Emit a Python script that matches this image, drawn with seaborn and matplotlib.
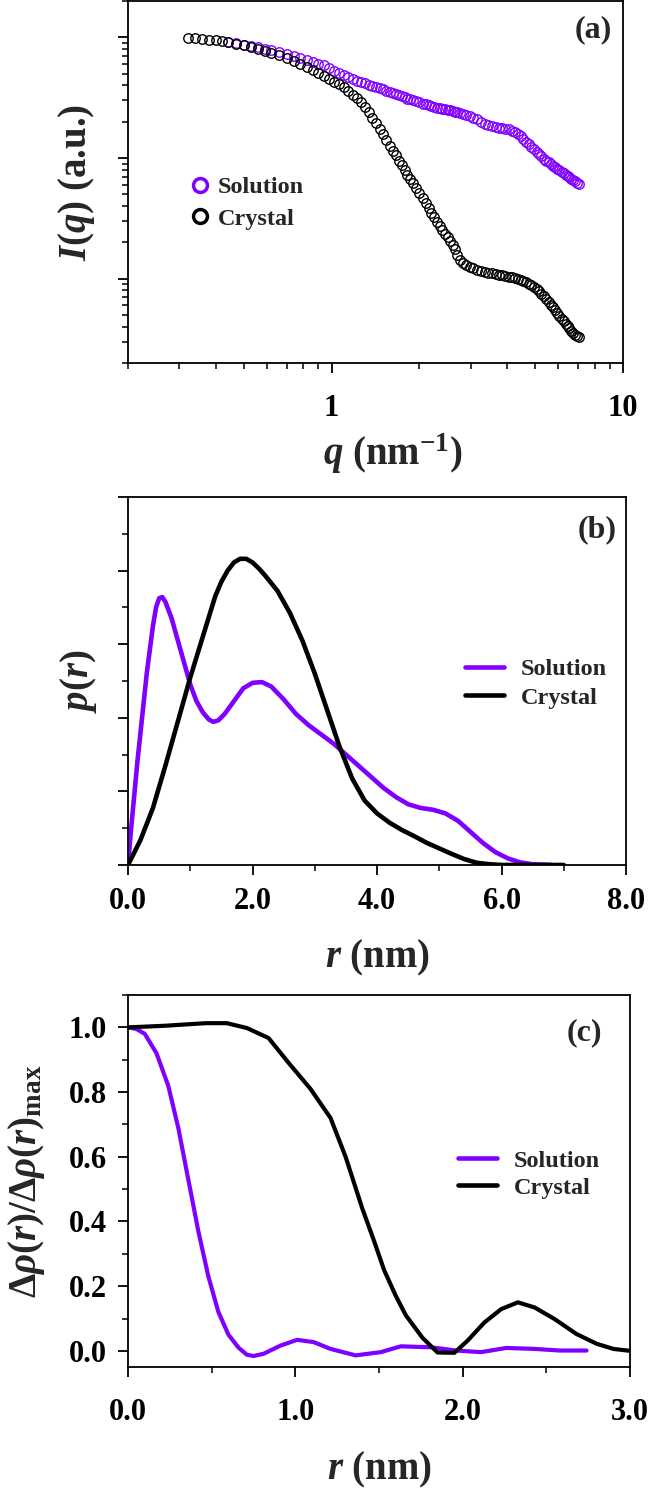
import pandas as pd
import seaborn as sns
import matplotlib.pyplot as plt
from matplotlib.lines import Line2D
from matplotlib.ticker import (LogLocator, NullFormatter, FormatStrFormatter,
                               MultipleLocator)

# (a) scattering curves: q (nm^-1) and I(q) (a.u.)
q_nm = [0.32, 0.34, 0.36, 0.38, 0.40, 0.42, 0.44, 0.47, 0.50, 0.53, 0.56, 0.59,
        0.62, 0.66, 0.70, 0.74, 0.78, 0.82, 0.86, 0.90, 0.94, 0.98, 1.02, 1.06,
        1.10, 1.14, 1.18, 1.22, 1.26, 1.30, 1.34, 1.38, 1.42, 1.46, 1.50, 1.54,
        1.58, 1.62, 1.66, 1.70, 1.74, 1.78, 1.82, 1.86, 1.90, 1.95, 2.00, 2.05,
        2.10, 2.15, 2.20, 2.25, 2.30, 2.35, 2.40, 2.45, 2.50, 2.55, 2.60, 2.65,
        2.70, 2.76, 2.83, 2.90, 2.98, 3.06, 3.15, 3.25, 3.35, 3.45, 3.55, 3.65,
        3.75, 3.85, 3.95, 4.05, 4.15, 4.25, 4.35, 4.45, 4.55, 4.65, 4.75, 4.85,
        4.95, 5.05, 5.15, 5.25, 5.35, 5.45, 5.55, 5.65, 5.75, 5.85, 5.95, 6.05,
        6.15, 6.25, 6.35, 6.45, 6.55, 6.65, 6.75, 6.85, 6.95, 7.04]
iq_crystal = [99.5, 98.5, 97.2, 95.8, 94.3, 92.7, 91.0, 88.5, 86.0, 83.3, 80.5, 77.7,
              74.8, 71.3, 67.8, 64.2, 60.5, 57.0, 53.6, 50.6, 47.8, 45.3, 43.0, 41.0,
              38.5, 36.0, 33.6, 31.5, 29.0, 26.5, 24.0, 21.6, 19.5, 17.5, 15.7, 14.1,
              12.7, 11.5, 10.5, 9.5, 8.7, 7.9, 7.3, 6.7, 6.2, 5.6, 5.1, 4.63,
              4.22, 3.86, 3.53, 3.23, 2.97, 2.73, 2.54, 2.36, 2.20, 2.05, 1.91, 1.75,
              1.58, 1.43, 1.34, 1.29, 1.25, 1.22, 1.19, 1.16, 1.14, 1.12, 1.11, 1.10,
              1.08, 1.07, 1.055, 1.04, 1.025, 1.01, 0.995, 0.978, 0.958, 0.938, 0.912, 0.885,
              0.855, 0.822, 0.788, 0.752, 0.715, 0.678, 0.642, 0.61, 0.58, 0.55, 0.522, 0.495,
              0.468, 0.445, 0.425, 0.405, 0.387, 0.37, 0.356, 0.343, 0.333, 0.326]
# solution curve starts at q = 0.44
iq_solution = [91.5, 89.3, 87.0, 84.8, 82.8, 80.8,
               78.8, 76.2, 73.5, 70.7, 67.9, 65.2, 62.7, 60.5, 58.5, 55.6, 52.8, 50.2,
               48.5, 47.0, 45.4, 43.8, 42.6, 41.5, 40.5, 39.6, 38.8, 37.9, 37.0, 36.1,
               35.3, 34.6, 33.9, 33.2, 32.5, 31.8, 31.1, 30.6, 30.1, 29.5, 28.9, 28.3,
               27.9, 27.4, 27.0, 26.6, 26.2, 25.9, 25.6, 25.3, 25.1, 24.8, 24.6, 24.3,
               24.0, 23.7, 23.3, 22.8, 22.2, 21.6, 20.9, 20.0, 19.2, 18.7, 18.3, 18.1,
               17.9, 17.7, 17.5, 17.3, 16.9, 16.4, 15.8, 15.1, 14.4, 13.7, 13.1, 12.4,
               11.9, 11.3, 10.8, 10.3, 9.8, 9.5, 9.2, 8.9, 8.6, 8.35, 8.1, 7.9,
               7.7, 7.45, 7.25, 7.08, 6.9, 6.72, 6.56, 6.4, 6.27, 6.15]

# (b) pair distance distribution p(r)
r_pr_solution = [0.0, 0.05, 0.1, 0.15, 0.2, 0.3, 0.4, 0.45, 0.5, 0.55, 0.6, 0.7, 0.8,
                 0.9, 1.0, 1.1, 1.2, 1.3, 1.37, 1.45, 1.55, 1.7, 1.85, 2.0, 2.15,
                 2.3, 2.5, 2.7, 2.9, 3.1, 3.3, 3.5, 3.7, 3.9, 4.1, 4.3, 4.5,
                 4.7, 4.9, 5.1, 5.3, 5.5, 5.7, 5.9, 6.1, 6.3, 6.5, 6.8]
pr_solution = [0.0, 0.10, 0.19, 0.28, 0.36, 0.52, 0.65, 0.70, 0.725, 0.728, 0.715, 0.67, 0.61,
               0.55, 0.49, 0.445, 0.415, 0.395, 0.389, 0.393, 0.41, 0.445, 0.48, 0.495, 0.497,
               0.485, 0.45, 0.41, 0.38, 0.355, 0.33, 0.30, 0.27, 0.24, 0.21, 0.185, 0.165,
               0.155, 0.15, 0.14, 0.12, 0.09, 0.06, 0.035, 0.018, 0.007, 0.002, 0.0]
r_pr_crystal = [0.0, 0.2, 0.4, 0.6, 0.8, 1.0, 1.2, 1.4, 1.5, 1.6, 1.7, 1.8, 1.9, 2.0,
                2.1, 2.2, 2.4, 2.6, 2.8, 3.0, 3.2, 3.4, 3.6, 3.8, 4.0, 4.2, 4.4, 4.6,
                4.8, 5.0, 5.2, 5.4, 5.6, 5.8, 6.0, 6.5, 7.0]
pr_crystal = [0.0, 0.068, 0.155, 0.27, 0.39, 0.51, 0.62, 0.73, 0.77, 0.80, 0.822, 0.832, 0.832, 0.822,
              0.806, 0.787, 0.745, 0.685, 0.61, 0.52, 0.42, 0.32, 0.235, 0.175, 0.14, 0.115, 0.095, 0.078,
              0.06, 0.045, 0.03, 0.016, 0.006, 0.002, 0.0, 0.0, 0.0]

# (c) normalised contrast profile
r_rho_solution = [0.0, 0.05, 0.1, 0.17, 0.24, 0.3, 0.36, 0.42, 0.48, 0.54, 0.6, 0.66,
                  0.71, 0.75, 0.81, 0.91, 1.01, 1.11, 1.21, 1.36, 1.51, 1.63, 1.81, 1.96,
                  2.11, 2.26, 2.43, 2.58, 2.74]
rho_solution = [1.0, 0.995, 0.98, 0.92, 0.82, 0.69, 0.53, 0.37, 0.23, 0.12, 0.05, 0.01,
                -0.012, -0.016, -0.009, 0.016, 0.034, 0.027, 0.006, -0.014, -0.004, 0.014, 0.011, 0.001,
                -0.004, 0.009, 0.006, 0.001, 0.001]
r_rho_crystal = [0.0, 0.22, 0.465, 0.59, 0.71, 0.84, 0.96, 1.09, 1.21, 1.30, 1.40, 1.47,
                 1.53, 1.60, 1.66, 1.76, 1.85, 1.95, 2.03, 2.13, 2.23, 2.33, 2.43, 2.55,
                 2.68, 2.80, 2.90, 3.0]
rho_crystal = [1.0, 1.005, 1.013, 1.013, 0.998, 0.967, 0.89, 0.81, 0.72, 0.60, 0.44, 0.34,
               0.25, 0.17, 0.11, 0.04, -0.005, -0.006, 0.032, 0.088, 0.129, 0.15, 0.134, 0.098,
               0.052, 0.022, 0.006, 0.0]

PURPLE = "#8000ff"
BLACK = "black"

sns.set_theme(style="ticks")
plt.rcParams.update({
    "font.family": ["Liberation Serif", "DejaVu Serif"],
    "font.weight": "bold",
    "axes.labelweight": "bold",
    "mathtext.fontset": "custom",
    "mathtext.rm": "Liberation Serif:bold",
    "mathtext.it": "Liberation Serif:bold:italic",
    "mathtext.bf": "Liberation Serif:bold",
    "axes.linewidth": 1.3,
    "axes.edgecolor": "black",
    "xtick.color": "black",
    "ytick.color": "black",
})

TICK_FS = 22
LABEL_FS = 28
LETTER_FS = 23
LEG_FS = 17.5

fig = plt.figure(figsize=(6.5, 14.88), dpi=100)
ax_a = fig.add_axes([0.197, 0.756, 0.7615, 0.2433])
ax_b = fig.add_axes([0.197, 0.4187, 0.7662, 0.2473])
ax_c = fig.add_axes([0.197, 0.0813, 0.7723, 0.25])


def style_ticks(ax, xpad, ypad):
    ax.tick_params(which="major", direction="out", length=7, width=1.3,
                   labelsize=TICK_FS, top=False, right=False)
    ax.tick_params(which="minor", direction="out", length=4, width=1.1,
                   top=False, right=False)
    ax.tick_params(axis="x", which="major", pad=xpad)
    ax.tick_params(axis="y", which="major", pad=ypad)
    for lab in ax.get_xticklabels() + ax.get_yticklabels():
        lab.set_fontweight("bold")


# ---- (a)
sol_a = pd.DataFrame({"q": q_nm[-len(iq_solution):], "I": iq_solution})
cry_a = pd.DataFrame({"q": q_nm, "I": iq_crystal})
for df, col in [(sol_a, PURPLE), (cry_a, BLACK)]:
    sns.lineplot(data=df, x="q", y="I", ax=ax_a, color=col, linestyle="",
                 marker="o", markersize=6.8, markerfacecolor="none",
                 markeredgecolor=col, markeredgewidth=1.0,
                 estimator=None, errorbar=None, sort=False, legend=False)
ax_a.set_xscale("log")
ax_a.set_yscale("log")
ax_a.set_xlim(0.2, 10)
ax_a.set_ylim(0.2, 200)
ax_a.xaxis.set_major_locator(LogLocator(base=10))
ax_a.xaxis.set_minor_locator(LogLocator(base=10, subs=range(2, 10)))
ax_a.xaxis.set_major_formatter(FormatStrFormatter("%g"))
ax_a.xaxis.set_minor_formatter(NullFormatter())
ax_a.yaxis.set_major_locator(LogLocator(base=10))
ax_a.yaxis.set_minor_locator(LogLocator(base=10, subs=range(2, 10)))
ax_a.yaxis.set_major_formatter(NullFormatter())
ax_a.yaxis.set_minor_formatter(NullFormatter())
style_ticks(ax_a, 15, 8)
ax_a.set_xlabel(r"$\mathit{q}$ (nm$^{-1}$)", fontsize=LABEL_FS, va="center")
ax_a.xaxis.set_label_coords(0.535, -0.25)
ax_a.set_ylabel(r"$\mathit{I(q)}$ (a.u.)", fontsize=LABEL_FS, va="center")
ax_a.yaxis.set_label_coords(-0.105, 0.5)
ax_a.text(0.94, 0.92, "(a)", transform=ax_a.transAxes, ha="center", va="center",
          fontsize=LETTER_FS, fontweight="bold")
h_a = [Line2D([], [], ls="", marker="o", ms=10, mfc="none", mec=PURPLE, mew=2.5),
       Line2D([], [], ls="", marker="o", ms=10, mfc="none", mec=BLACK, mew=2.5)]
ax_a.legend(h_a, ["Solution", "Crystal"], loc="upper left",
            bbox_to_anchor=(0.125, 0.516), frameon=False, fontsize=LEG_FS,
            handlelength=0.8, handletextpad=0.35, labelspacing=0.39,
            borderpad=0, borderaxespad=0)

# ---- (b)
sol_b = pd.DataFrame({"r": r_pr_solution, "p": pr_solution})
cry_b = pd.DataFrame({"r": r_pr_crystal, "p": pr_crystal})
sns.lineplot(data=sol_b, x="r", y="p", ax=ax_b, color=PURPLE, lw=3.3,
             estimator=None, errorbar=None, legend=False)
sns.lineplot(data=cry_b, x="r", y="p", ax=ax_b, color=BLACK, lw=3.3,
             estimator=None, errorbar=None, legend=False)
ax_b.set_xlim(0, 8)
ax_b.set_ylim(0, 1.0)
ax_b.xaxis.set_major_locator(MultipleLocator(2))
ax_b.xaxis.set_minor_locator(MultipleLocator(1))
ax_b.xaxis.set_major_formatter(FormatStrFormatter("%.1f"))
ax_b.yaxis.set_major_locator(MultipleLocator(0.2))
ax_b.yaxis.set_minor_locator(MultipleLocator(0.1))
ax_b.yaxis.set_major_formatter(NullFormatter())
style_ticks(ax_b, 9, 8)
ax_b.set_xlabel(r"$\mathit{r}$ (nm)", fontsize=LABEL_FS, va="center")
ax_b.xaxis.set_label_coords(0.5, -0.253)
ax_b.set_ylabel(r"$\mathit{p(r)}$", fontsize=LABEL_FS, va="center")
ax_b.yaxis.set_label_coords(-0.1, 0.5)
ax_b.text(0.942, 0.91, "(b)", transform=ax_b.transAxes, ha="center", va="center",
          fontsize=LETTER_FS, fontweight="bold")
h_lines = [Line2D([], [], color=PURPLE, lw=3.3), Line2D([], [], color=BLACK, lw=3.3)]
ax_b.legend(h_lines, ["Solution", "Crystal"], loc="upper left",
            bbox_to_anchor=(0.677, 0.562), frameon=False, fontsize=LEG_FS,
            handlelength=1.6, handletextpad=0.7, labelspacing=0.27,
            borderpad=0, borderaxespad=0)

# ---- (c)
sol_c = pd.DataFrame({"r": r_rho_solution, "rho": rho_solution})
cry_c = pd.DataFrame({"r": r_rho_crystal, "rho": rho_crystal})
sns.lineplot(data=sol_c, x="r", y="rho", ax=ax_c, color=PURPLE, lw=3.0,
             estimator=None, errorbar=None, legend=False)
sns.lineplot(data=cry_c, x="r", y="rho", ax=ax_c, color=BLACK, lw=3.0,
             estimator=None, errorbar=None, legend=False)
ax_c.set_xlim(0, 3)
ax_c.set_ylim(-0.05, 1.1)
ax_c.xaxis.set_major_locator(MultipleLocator(1))
ax_c.xaxis.set_minor_locator(MultipleLocator(0.5))
ax_c.xaxis.set_major_formatter(FormatStrFormatter("%.1f"))
ax_c.yaxis.set_major_locator(MultipleLocator(0.2))
ax_c.yaxis.set_minor_locator(MultipleLocator(0.1))
ax_c.yaxis.set_major_formatter(FormatStrFormatter("%.1f"))
style_ticks(ax_c, 15, 8)
ax_c.set_xlabel(r"$\mathit{r}$ (nm)", fontsize=LABEL_FS, va="center")
ax_c.xaxis.set_label_coords(0.5, -0.277)
ax_c.set_ylabel(r"$\mathit{Δρ(r)/Δρ(r)}_{\mathrm{max}}$",
                fontsize=LABEL_FS, va="center")
ax_c.yaxis.set_label_coords(-0.203, 0.5)
ax_c.text(0.91, 0.898, "(c)", transform=ax_c.transAxes, ha="center", va="center",
          fontsize=LETTER_FS, fontweight="bold")
ax_c.legend(h_lines, ["Solution", "Crystal"], loc="upper left",
            bbox_to_anchor=(0.657, 0.584), frameon=False, fontsize=LEG_FS,
            handlelength=1.6, handletextpad=0.7, labelspacing=0.2,
            borderpad=0, borderaxespad=0)

fig.savefig("out.png", dpi=100)
